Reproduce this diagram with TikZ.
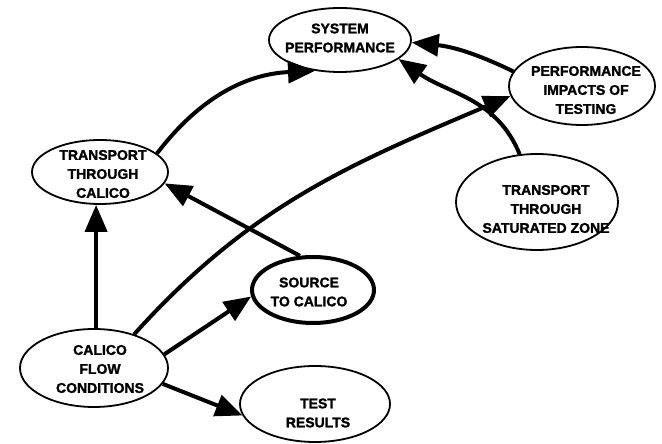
\documentclass[tikz,border=0pt]{standalone}
\usepackage{fontspec}
\setmainfont{Liberation Sans}
\newfontfamily\heavyfont{Liberation Sans Bold}[FakeBold=1.6]
\usetikzlibrary{arrows.meta,shapes.geometric}
\begin{document}
\begin{tikzpicture}[x=1pt,y=1pt,
  oval/.style={ellipse,draw,line width=1.8pt,inner sep=0pt},
  lbl/.style={align=center,inner sep=0pt,font=\fontsize{14}{19}\selectfont\heavyfont},
  arr/.style={line width=4pt,-{Triangle[length=27pt,width=22pt]}}]
\useasboundingbox (0,0) rectangle (662,444);
\node[oval,minimum width=142pt,minimum height=64pt] (sp) at (340,404) {};
\node[oval,minimum width=146pt,minimum height=78pt] (pit) at (582,358) {};
\node[oval,minimum width=136pt,minimum height=64pt] (ttc) at (100,272) {};
\node[oval,minimum width=162pt,minimum height=96pt] (tsz) at (537,242) {};
\node[oval,line width=4pt,minimum width=122pt,minimum height=66pt] (stc) at (313,154) {};
\node[oval,minimum width=148pt,minimum height=78pt] (cfc) at (94,76) {};
\node[oval,minimum width=150pt,minimum height=76pt] (tr) at (315,40) {};

\draw[arr] (ttc.18) to[bend left=25] (sp.231);
\draw[arr] (pit.168) to[bend right=10] (sp.358);
\draw[arr] (tsz.110) to[out=112,in=-35] (sp.342);
\draw[arr] (cfc.40) to[out=48,in=203] (pit.188);
\draw[arr] (stc.111) -- (ttc.350);
\draw[arr] (cfc.87) -- (cfc.87 |- ttc.south);
\draw[arr] (cfc.11) -- (stc.186);
\draw[arr] (cfc.347) -- (tr.189);

\node[lbl] (sp-t) at (340,406) {SYSTEM\\PERFORMANCE};
\node[lbl] (pit-t) at (586,354) {PERFORMANCE\\IMPACTS OF\\TESTING};
\node[lbl] (ttc-t) at (103,270) {TRANSPORT\\THROUGH\\CALICO};
\node[lbl] (tsz-t) at (546,235) {TRANSPORT\\THROUGH\\SATURATED ZONE};
\node[lbl] (stc-t) at (309,152) {SOURCE\\TO CALICO};
\node[lbl] (cfc-t) at (100,75) {CALICO\\FLOW\\CONDITIONS};
\node[lbl] (tr-t) at (318,31) {TEST\\RESULTS};
\end{tikzpicture}
\end{document}
